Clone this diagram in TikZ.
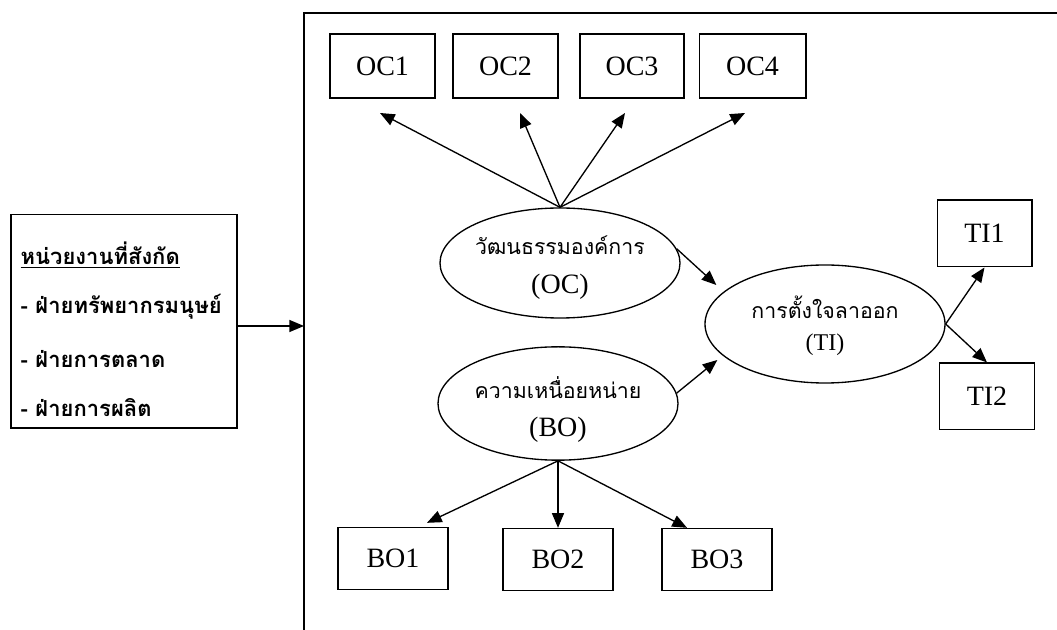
\documentclass[tikz,border=0pt]{standalone}
\usepackage{fontspec}
\setmainfont{Liberation Serif}
\newfontfamily\thai[Script=Thai]{Loma}
\usetikzlibrary{shapes.geometric,arrows.meta,calc}
\begin{document}
\begin{tikzpicture}[x=0.75pt,y=-0.75pt,
  line width=1pt,
  arr/.style={-{Triangle[length=11pt,width=9pt]}},
  obox/.style={draw,rectangle,inner sep=0pt,minimum width=#1,minimum height=48pt,font=\fontsize{21}{24}\selectfont},
  tbox/.style={draw,rectangle,inner sep=0pt,minimum width=71pt,minimum height=50pt,font=\fontsize{21}{24}\selectfont},
  bbox/.style={draw,rectangle,inner sep=0pt,minimum width=82.5pt,minimum height=46.5pt,font=\fontsize{21}{24}\selectfont},
  lat/.style={draw,ellipse,inner sep=0pt,minimum width=180pt,minimum height=#1},
  thtext/.style={inner sep=0pt,font=\thai\fontsize{16}{19}\selectfont},
  abbr/.style={inner sep=0pt,font=\fontsize{21}{24}\selectfont},
  unittext/.style={inner sep=0pt,anchor=west,font=\thai\bfseries\fontsize{16.5}{20}\selectfont}
]
\useasboundingbox (0,0) rectangle (1057,630);
% big frame (right and bottom edges lie outside the picture)
\draw (1057,13) -- (304,13) -- (304,630);
\coordinate (frame) at (304,326);
% left box
\node[draw,rectangle,inner sep=0pt,minimum width=169.5pt,minimum height=160pt] (unit) at (124,321.5) {};
\node[unittext] (u1) at (20,255) {\underline{หน่วยงานที่สังกัด}};
\node[unittext] (u2) at (20,307) {- ฝ่ายทรัพยากรมนุษย์};
\node[unittext] (u3) at (20,359) {- ฝ่ายการตลาด};
\node[unittext] (u4) at (20,408) {- ฝ่ายการผลิต};
\draw[arr] (unit.east |- frame) -- (frame);
% OC indicators
\node[obox=78.75pt] (oc1) at (382.5,66) {OC1};
\node[obox=78.75pt] (oc2) at (505.5,66) {OC2};
\node[obox=78pt] (oc3) at (632,66) {OC3};
\node[obox=80pt] (oc4) at (752.5,66) {OC4};
\coordinate (t1) at (380,113);
\coordinate (t2) at (520,113);
\coordinate (t3) at (625,113);
\coordinate (t4) at (745,113);
% latent variables
\node[lat=82.5pt] (oc) at (560,263) {};
\node[thtext] (ocA) at (560,245) {วัฒนธรรมองค์การ};
\node[abbr] (ocB) at (560,287) {(OC)};
\node[lat=85pt] (bo) at (558,403.5) {};
\node[thtext] (boA) at (558,388) {ความเหนื่อยหน่าย};
\node[abbr] (boB) at (558,430) {(BO)};
\node[lat=88.5pt] (ti) at (825,324) {};
\node[thtext] (tiA) at (825,307) {การตั้งใจลาออก};
\node[abbr,font=\fontsize{18}{20}\selectfont] (tiB) at (825,345) {(TI)};
% TI indicators
\node[tbox] (ti1) at (984.5,233.5) {TI1};
\node[tbox] (ti2) at (987,396.5) {TI2};
% BO indicators
\node[bbox] (bo1) at (393,558.5) {BO1};
\node[bbox] (bo2) at (558,559.5) {BO2};
\node[bbox] (bo3) at (717,559.5) {BO3};
% arrows
\foreach \t in {t1,t2,t3,t4} \draw[arr] (oc.north) -- (\t);
\draw[arr] (bo.south) -- ($(bo1.north)+(34,-4)$);
\draw[arr] (bo.south) -- (bo2.north);
\draw[arr] (bo.south) -- ($(bo3.north)+(-30,0)$);
\draw[arr] (oc.7) -- ($(ti.west)+(12,-39)$);
\draw[arr] (bo.5) -- ($(ti.west)+(13,36)$);
\draw[arr] (ti.east) -- (ti1.south);
\draw[arr] (ti.east) -- (ti2.north);
\end{tikzpicture}
\end{document}
